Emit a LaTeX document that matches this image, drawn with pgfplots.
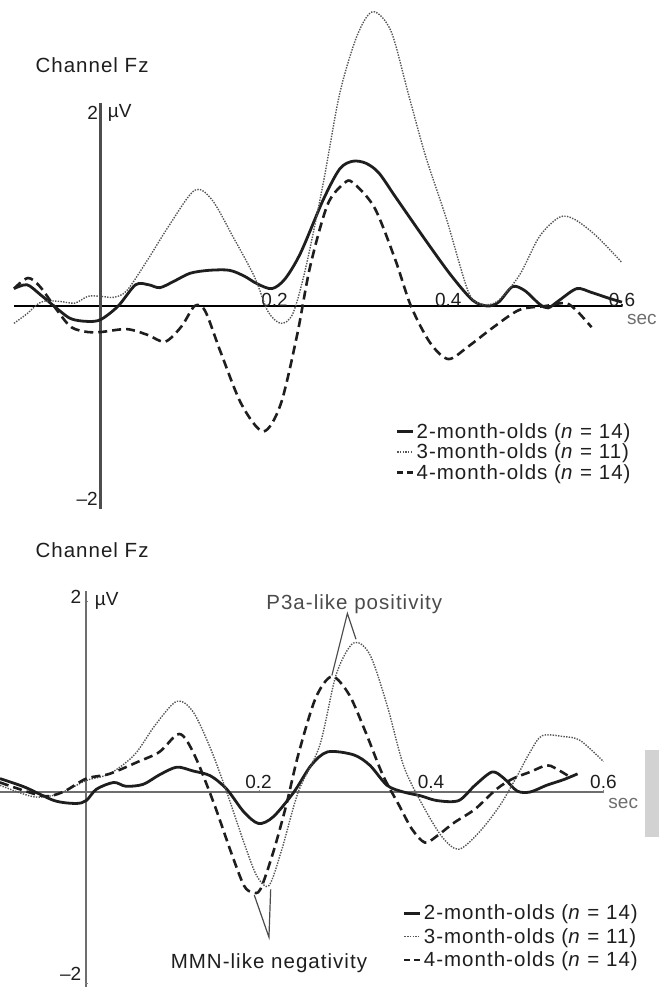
\documentclass[border=0pt]{standalone}
\usepackage{fontspec}
\setmainfont{Liberation Sans}
\newfontfamily\wide{Liberation Sans}[LetterSpace=5]
\usepackage{pgfplots}
\pgfplotsset{compat=1.18}
\usepackage{pgfplotstable}

\pgfplotstableread{
t v
-0.100 0.18
-0.085 0.22
-0.070 0.12
-0.054 0.00
-0.035 -0.13
-0.015 -0.16
0.000 -0.14
0.020 0.00
0.040 0.22
0.055 0.22
0.068 0.19
0.085 0.26
0.103 0.34
0.125 0.37
0.148 0.37
0.165 0.31
0.180 0.23
0.197 0.18
0.212 0.28
0.230 0.55
0.256 1.10
0.275 1.42
0.290 1.50
0.305 1.48
0.320 1.38
0.340 1.12
0.374 0.68
0.403 0.32
0.428 0.06
0.445 0.00
0.458 0.04
0.474 0.20
0.488 0.16
0.505 0.02
0.515 -0.02
0.528 0.06
0.548 0.18
0.565 0.14
0.585 0.08
0.600 0.04
}\topTwo

\pgfplotstableread{
t v
-0.100 -0.18
-0.085 -0.08
-0.069 0.04
-0.050 0.05
-0.030 0.03
-0.015 0.10
0.000 0.10
0.015 0.09
0.030 0.16
0.054 0.48
0.079 0.84
0.108 1.20
0.128 1.10
0.152 0.72
0.177 0.30
0.192 -0.05
0.207 -0.18
0.221 -0.08
0.236 0.40
0.256 1.27
0.275 2.20
0.295 2.80
0.313 3.05
0.334 2.85
0.354 2.20
0.374 1.55
0.398 0.90
0.423 0.15
0.438 0.02
0.457 0.05
0.482 0.32
0.505 0.72
0.528 0.92
0.545 0.90
0.570 0.73
0.600 0.45
}\topThree

\pgfplotstableread{
t v
-0.100 0.18
-0.084 0.29
-0.070 0.20
-0.050 -0.05
-0.034 -0.22
-0.015 -0.27
0.000 -0.27
0.030 -0.24
0.054 -0.30
0.074 -0.37
0.093 -0.21
0.108 0.00
0.120 -0.05
0.138 -0.48
0.162 -1.02
0.187 -1.30
0.207 -1.02
0.226 -0.30
0.241 0.41
0.261 1.05
0.280 1.27
0.290 1.28
0.315 1.02
0.339 0.48
0.357 0.00
0.379 -0.38
0.400 -0.55
0.423 -0.42
0.452 -0.22
0.482 -0.04
0.512 0.00
0.535 0.03
0.548 -0.05
0.565 -0.22
}\topFour

\pgfplotstableread{
t v
-0.100 0.14
-0.071 0.05
-0.037 -0.09
-0.012 -0.12
0.000 -0.09
0.012 0.03
0.032 0.10
0.046 0.06
0.066 0.08
0.085 0.18
0.105 0.26
0.124 0.22
0.144 0.17
0.163 0.03
0.183 -0.21
0.200 -0.33
0.217 -0.26
0.241 0.00
0.261 0.28
0.280 0.42
0.310 0.39
0.329 0.28
0.349 0.07
0.368 0.00
0.388 -0.04
0.407 -0.09
0.432 -0.09
0.451 0.07
0.471 0.21
0.485 0.14
0.500 0.01
0.515 0.00
0.534 0.07
0.554 0.13
0.570 0.19
}\botTwo

\pgfplotstableread{
t v
-0.100 0.07
-0.061 -0.05
-0.032 -0.02
0.000 0.12
0.027 0.19
0.056 0.39
0.080 0.70
0.105 0.95
0.124 0.84
0.144 0.46
0.163 0.00
0.183 -0.53
0.198 -0.88
0.212 -0.98
0.227 -0.60
0.246 0.00
0.271 0.49
0.290 1.23
0.310 1.56
0.329 1.44
0.349 0.91
0.368 0.28
0.388 -0.10
0.412 -0.46
0.432 -0.60
0.456 -0.42
0.480 -0.14
0.500 0.17
0.515 0.42
0.529 0.59
0.554 0.58
0.573 0.54
0.600 0.32
}\botThree

\pgfplotstableread{
t v
-0.100 0.10
-0.051 -0.04
-0.027 0.00
0.000 0.14
0.027 0.19
0.061 0.32
0.085 0.42
0.105 0.60
0.115 0.56
0.129 0.32
0.149 -0.14
0.168 -0.63
0.183 -0.98
0.193 -1.05
0.202 -1.02
0.217 -0.63
0.232 -0.14
0.246 0.39
0.266 0.98
0.285 1.21
0.305 1.02
0.324 0.63
0.344 0.18
0.363 -0.14
0.378 -0.39
0.393 -0.53
0.407 -0.46
0.427 -0.32
0.451 -0.18
0.476 0.03
0.495 0.14
0.515 0.21
0.534 0.28
0.544 0.25
0.559 0.17
}\botFour

\definecolor{ink}{HTML}{1E1E1E}
\definecolor{dotgray}{HTML}{555555}
\definecolor{axgray}{HTML}{6E6E6E}

\pgfplotsset{
  eegaxis/.style={
    scale only axis, clip=false,
    axis lines=middle,
    xmin=-0.1, xmax=0.6, ymin=-2.1, ymax=2.1,
    xtick={0.2,0.4,0.6}, xticklabels={0.2,0.4,0.6},
    ytick={-2,2}, yticklabels={\textendash2,2},
    /pgf/number format/assume math mode=true,
    font=\fontsize{19}{23}\selectfont,
    tick label style={text=ink},
    x tick label style={anchor=south, yshift=-3pt},
    y tick label style={anchor=east, xshift=2pt},
    major tick length=3pt,
    legend cell align=left,
    legend style={draw=none, fill=none, font=\wide\fontsize{20.5}{23}\selectfont, text=ink,
      row sep=0pt, inner sep=1pt},
    legend image code/.code={\draw[##1] (0pt,0pt) -- (16pt,0pt);},
  },
  s2/.style={ink, line width=2.8pt, smooth},
  s3/.style={dotgray, line width=1.4pt, dash pattern=on 1.4pt off 1.3pt, smooth},
  s4/.style={ink, line width=2.6pt, dash pattern=on 9pt off 5pt, smooth},
  s4leg/.style={ink, line width=2.6pt, dash pattern=on 6pt off 4pt},
}

\begin{document}
\begin{tikzpicture}[x=1pt,y=1pt]
\useasboundingbox (0,0) rectangle (659,987);

% ---------- top panel ----------
\node[anchor=west, font=\wide\fontsize{20.5}{24}\selectfont, text=ink] at (32,922) {Channel Fz};
\begin{axis}[eegaxis,
  at={(14pt,478.35pt)}, anchor=south west,
  width=607.95pt, height=405.3pt,
  x axis line style={-, black, line width=1.3pt},
  y axis line style={-, axgray!70!black, line width=3pt},
  legend style={at={(0.626,0.218)}, anchor=north west},
]
\addplot[s2] table[x=t,y=v]{\topTwo};
\addlegendentry{2-month-olds (\textit{n} = 14)}
\addplot[s3] table[x=t,y=v]{\topThree};
\addlegendentry{3-month-olds (\textit{n} = 11)}
\addplot[s4, forget plot] table[x=t,y=v]{\topFour};
\addlegendimage{s4leg}
\addlegendentry{4-month-olds (\textit{n} = 14)}
\node[anchor=west, text=ink] at (axis cs:0.004,2) {µV};
\node[anchor=north, text=axgray] at (axis cs:0.623,-0.05) {sec};
\end{axis}

% ---------- bottom panel ----------
\node[anchor=west, font=\wide\fontsize{20.5}{24}\selectfont, text=ink] at (32,437) {Channel Fz};
\fill[gray!35] (645,150) rectangle (659,237);
\begin{axis}[eegaxis,
  at={(0pt,-5.55pt)}, anchor=south west,
  width=603.4pt, height=401.1pt,
  axis line style={-, axgray, line width=2pt},
  x tick label style={yshift=4pt},
  y tick label style={yshift=4pt, xshift=-2pt},
  extra y ticks={-2}, extra y tick labels={\textendash2},
  extra y tick style={tick label style={yshift=5pt}},
  ytick={2}, yticklabels={2},
  legend style={at={(0.666,0.226)}, anchor=north west, row sep=3pt},
]
\addplot[s2] table[x=t,y=v]{\botTwo};
\addlegendentry{2-month-olds (\textit{n} = 14)}
\addplot[s3] table[x=t,y=v]{\botThree};
\addlegendentry{3-month-olds (\textit{n} = 11)}
\addplot[s4, forget plot] table[x=t,y=v]{\botFour};
\addlegendimage{s4leg}
\addlegendentry{4-month-olds (\textit{n} = 14)}
\node[anchor=west, text=ink] at (axis cs:0.006,2) {µV};
\node[anchor=north, text=axgray] at (axis cs:0.623,-0.03) {sec};
% annotations
\node[text=ink!80, font=\wide\fontsize{20.5}{24}\selectfont] at (axis cs:0.311,1.97) {P3a-like positivity};
\draw[ink!80, line width=1.2pt] (axis cs:0.285,1.22) -- (axis cs:0.303,1.87) -- (axis cs:0.313,1.60);
\node[text=ink, font=\wide\fontsize{20.5}{24}\selectfont] at (axis cs:0.212,-1.79) {MMN-like negativity};
\draw[ink!80, line width=1.2pt] (axis cs:0.195,-1.08) -- (axis cs:0.212,-1.52) -- (axis cs:0.214,-1.02);
\end{axis}
\end{tikzpicture}
\end{document}
